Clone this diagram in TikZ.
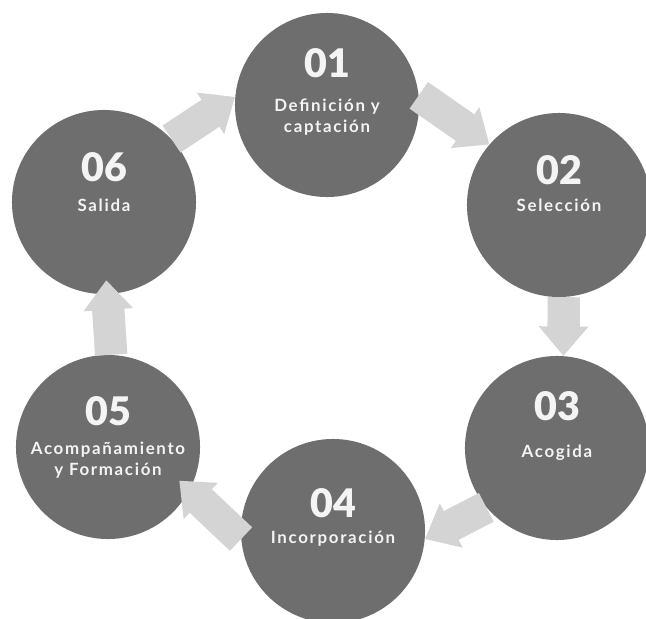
\documentclass[tikz,border=0pt]{standalone}
\usepackage{fontspec}
\setmainfont{Lato}
\IfFontExistsTF{Lato Black}{\newfontfamily\numfont{Lato Black}}{\newfontfamily\numfont{Lato}[UprightFont=*-Bold]}
\newfontfamily\lblfont{Lato}[LetterSpace=10]
\usepackage{xcolor}
\usetikzlibrary{positioning,calc,arrows.meta}

\definecolor{stagegray}{HTML}{6E6E6E}
\definecolor{flowgray}{HTML}{D4D4D4}
\definecolor{textwhite}{HTML}{F4F4F4}

\begin{document}
\begin{tikzpicture}[
    x=0.025cm, y=-0.025cm,
    every node/.style={align=center, text=textwhite},
    stage/.style={circle, fill=stagegray, minimum size=4.6cm, inner sep=0pt},
    num/.style={anchor=base, font=\numfont\fontsize{28}{28}\selectfont},
    lbl/.style={anchor=base, font=\lblfont\bfseries\fontsize{12}{14.5}\selectfont},
    flow/.style={-{Triangle[width=34pt, length=21pt]}, line width=23pt, draw=flowgray}
]
\useasboundingbox[fill=white] (0,0) rectangle (646,619);

% Nodes
\node[stage] (def) at (327,105) {};
\node[stage] (sel) at (559,205) {};
\node[stage] (aco) at (557,448) {};
\node[stage] (inc) at (333,531) {};
\node[stage] (acomp) at (108,447) {};
\node[stage] (sal) at (104,202) {};

\node[num] (n1) at ($(def)+(0,-28)$) {01};
\node[num] (n2) at ($(sel)+(0,-21)$) {02};
\node[num] (n3) at ($(aco)+(0,-28)$) {03};
\node[num] (n4) at ($(inc)+(0,-14)$) {04};
\node[num] (n5) at ($(acomp)+(0,-22)$) {05};
\node[num] (n6) at ($(sal)+(0,-21)$) {06};

% two-line labels sit on their last line
\node[lbl] (l1) at ($(def)+(0,27)$) {Definición y\\captación};
\node[lbl] (l2) at ($(sel)+(0,6)$) {Selección};
\node[lbl] (l3) at ($(aco)+(0,9)$) {Acogida};
\node[lbl] (l4) at ($(inc)+(0,12)$) {Incorporación};
\node[lbl] (l5) at ($(acomp)+(0,28)$) {Acompañamiento\\y Formación};
\node[lbl] (l6) at ($(sal)+(0,9)$) {Salida};

% Arrows
\draw[flow] (sal.43) -- (def.175);
\draw[flow] (def.6) -- (sel.139);
\draw[flow] (sel.273) -- (aco.86);
\draw[flow] (aco.220) -- (inc.355);
\draw[flow, shorten >=-10pt] (inc.185) -- (acomp.332);
\draw[flow, shorten >=-10pt] (acomp.88) -- (sal.272);

\end{tikzpicture}
\end{document}
